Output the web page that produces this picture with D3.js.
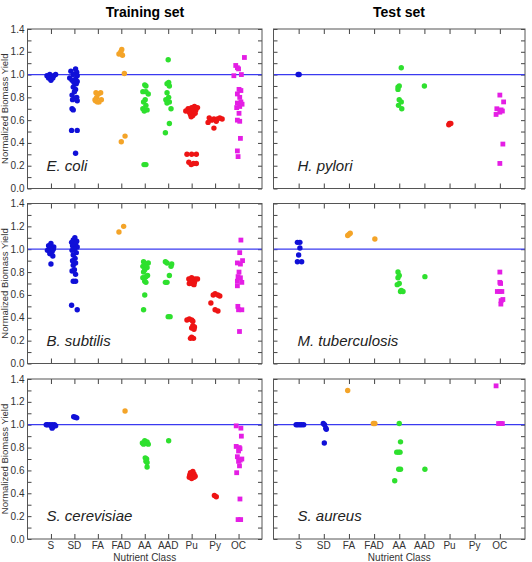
<!DOCTYPE html>
<html>
<head>
<meta charset="utf-8">
<script src="https://cdn.jsdelivr.net/npm/d3@7"></script>
<style>
  body { margin: 0; background: #fff; }
  text { font-family: "Liberation Sans", Arial, sans-serif; }
</style>
</head>
<body>
<svg id="chart" width="532" height="562"></svg>
<script>
let classes = ["S", "SD", "FA", "FAD", "AA", "AAD", "Pu", "Py", "OC"];
let classColor = ["#1010d8", "#1010d8", "#f4a428", "#f4a428", "#2ee02e", "#2ee02e", "#ee1414", "#ee1414", "#e41ee4"];
let yTicks = [0, 0.2, 0.4, 0.6, 0.8, 1.0, 1.2, 1.4];

// [class, value, jitter offset in class units]
let ecoli = [
  ["S",1.00,-0.05],["S",0.99,-0.17],["S",0.99,0.12],["S",1.00,0.2],["S",0.98,0.0],["S",0.97,-0.1],["S",0.97,0.08],["S",0.95,0.0],
  ["SD",1.05,0.05],["SD",1.03,-0.15],["SD",1.02,0.1],["SD",1.00,-0.05],["SD",0.99,0.12],["SD",0.97,-0.2],["SD",0.96,0.05],["SD",0.95,-0.1],
  ["SD",0.94,0.12],["SD",0.93,-0.02],["SD",0.92,0.08],["SD",0.89,-0.05],["SD",0.87,0.05],["SD",0.85,0.0],["SD",0.82,-0.1],["SD",0.80,0.1],
  ["SD",0.79,0.02],["SD",0.78,-0.08],["SD",0.77,0.12],["SD",0.70,-0.1],["SD",0.69,-0.05],["SD",0.51,-0.12],["SD",0.51,0.12],["SD",0.31,0.05],
  ["FA",0.84,-0.08],["FA",0.84,0.12],["FA",0.83,0.02],["FA",0.80,-0.05],["FA",0.78,0.15],["FA",0.77,-0.1],["FA",0.76,0.05],["FA",0.76,-0.02],["FA",0.78,-0.12],
  ["FAD",1.22,0.02],["FAD",1.20,-0.02],["FAD",1.18,-0.1],["FAD",1.17,0.05],["FAD",1.01,0.13],["FAD",0.46,0.16],["FAD",0.41,0.0],
  ["AA",0.91,0.0],["AA",0.90,0.05],["AA",0.85,-0.08],["AA",0.85,0.05],["AA",0.83,0.15],["AA",0.78,0.02],["AA",0.76,-0.05],["AA",0.73,0.05],
  ["AA",0.70,-0.08],["AA",0.69,0.1],["AA",0.68,-0.02],["AA",0.21,-0.03],["AA",0.21,0.05],
  ["AAD",1.13,0.0],["AAD",0.93,0.02],["AAD",0.92,-0.05],["AAD",0.90,0.05],["AAD",0.84,-0.05],["AAD",0.80,0.02],["AAD",0.78,-0.1],["AAD",0.76,0.05],
  ["AAD",0.75,-0.05],["AAD",0.70,0.12],["AAD",0.57,0.05],["AAD",0.49,-0.12],
  ["Pu",0.72,0.12],["Pu",0.71,0.0],["Pu",0.71,0.25],["Pu",0.70,-0.15],["Pu",0.69,0.18],["Pu",0.68,0.05],["Pu",0.68,-0.25],["Pu",0.67,-0.1],
  ["Pu",0.66,0.15],["Pu",0.65,-0.05],["Pu",0.64,0.05],["Pu",0.63,-0.02],["Pu",0.30,-0.2],["Pu",0.30,0.0],["Pu",0.30,0.2],["Pu",0.23,-0.12],
  ["Pu",0.22,0.08],["Pu",0.21,-0.02],["Pu",0.22,0.2],
  ["Py",0.62,-0.25],["Py",0.62,0.2],["Py",0.61,-0.05],["Py",0.61,0.3],["Py",0.61,0.1],["Py",0.60,-0.15],["Py",0.59,0.05],["Py",0.58,-0.3],["Py",0.53,-0.05],
  ["OC",1.15,0.25],["OC",1.08,-0.12],["OC",1.06,-0.05],["OC",1.05,0.0],["OC",1.00,0.12],["OC",0.99,-0.2],["OC",0.87,0.02],["OC",0.86,0.1],
  ["OC",0.83,-0.05],["OC",0.80,0.05],["OC",0.76,0.1],["OC",0.75,-0.05],["OC",0.74,0.15],["OC",0.72,0.05],["OC",0.71,-0.08],["OC",0.66,0.02],
  ["OC",0.60,-0.05],["OC",0.59,0.05],["OC",0.44,0.08],["OC",0.33,-0.05],["OC",0.28,-0.02]
];

let pylori = [
  ["S",1.00,-0.02],["S",1.00,0.02],
  ["AA",1.06,0.08],["AA",0.90,0.0],["AA",0.89,-0.05],["AA",0.87,-0.05],["AA",0.78,0.0],["AA",0.76,0.08],["AA",0.73,-0.03],["AA",0.70,0.1],
  ["AAD",0.90,0.0],
  ["Pu",0.57,0.0],["Pu",0.57,0.05],["Pu",0.56,-0.03],
  ["OC",0.82,0.0],["OC",0.76,0.15],["OC",0.70,-0.12],["OC",0.69,0.05],["OC",0.68,0.1],["OC",0.67,0.0],["OC",0.65,-0.15],["OC",0.39,0.12],["OC",0.22,0.0]
];

let subtilis = [
  ["S",1.05,0.0],["S",1.03,-0.1],["S",1.02,0.12],["S",1.01,-0.05],["S",1.00,0.1],["S",0.99,-0.15],["S",0.98,0.05],["S",0.96,-0.05],["S",0.94,0.08],["S",0.87,0.0],
  ["SD",1.10,0.02],["SD",1.08,-0.05],["SD",1.07,0.1],["SD",1.06,-0.12],["SD",1.05,0.05],["SD",1.03,-0.08],["SD",1.02,0.12],["SD",1.00,0.0],
  ["SD",0.99,-0.1],["SD",0.97,0.08],["SD",0.95,-0.05],["SD",0.92,0.03],["SD",0.90,-0.08],["SD",0.88,0.05],["SD",0.86,-0.05],["SD",0.82,0.0],
  ["SD",0.81,-0.1],["SD",0.78,0.05],["SD",0.72,-0.05],["SD",0.72,0.05],["SD",0.51,-0.12],["SD",0.47,0.12],
  ["FAD",1.15,-0.1],["FAD",1.20,0.1],
  ["AA",0.89,-0.05],["AA",0.88,0.15],["AA",0.87,0.0],["AA",0.85,-0.08],["AA",0.84,0.1],["AA",0.82,0.0],["AA",0.80,-0.05],["AA",0.77,0.12],
  ["AA",0.76,0.05],["AA",0.75,-0.08],["AA",0.72,0.0],["AA",0.71,0.05],["AA",0.60,0.0],["AA",0.47,-0.05],
  ["AAD",0.89,-0.12],["AAD",0.88,-0.05],["AAD",0.87,0.15],["AAD",0.85,0.12],["AAD",0.77,0.05],["AAD",0.71,-0.12],["AAD",0.71,-0.05],["AAD",0.41,0.0],["AAD",0.41,0.08],
  ["Pu",0.75,0.0],["Pu",0.74,0.15],["Pu",0.74,-0.12],["Pu",0.73,0.05],["Pu",0.72,-0.05],["Pu",0.71,0.12],["Pu",0.70,-0.1],["Pu",0.70,0.02],
  ["Pu",0.69,0.1],["Pu",0.74,0.25],["Pu",0.39,-0.1],["Pu",0.38,0.0],["Pu",0.38,-0.2],["Pu",0.37,0.05],["Pu",0.33,0.05],["Pu",0.32,0.12],
  ["Pu",0.31,0.0],["Pu",0.30,0.1],["Pu",0.23,0.0],["Pu",0.22,0.08],["Pu",0.22,-0.05],
  ["Py",0.61,0.0],["Py",0.60,0.12],["Py",0.60,-0.08],["Py",0.59,0.2],["Py",0.53,-0.18],["Py",0.47,0.0],["Py",0.46,0.12],
  ["OC",1.08,0.1],["OC",0.97,0.05],["OC",0.90,0.17],["OC",0.88,-0.05],["OC",0.87,0.08],["OC",0.80,0.02],["OC",0.76,-0.02],["OC",0.75,0.08],
  ["OC",0.72,-0.05],["OC",0.71,0.14],["OC",0.68,-0.05],["OC",0.50,-0.03],["OC",0.47,0.0],["OC",0.47,0.14],["OC",0.28,0.04]
];

let tuberculosis = [
  ["S",1.06,-0.05],["S",1.06,0.05],["S",1.01,0.05],["S",0.95,0.0],["S",0.89,-0.05],["S",0.89,0.12],
  ["FA",1.13,0.0],["FA",1.12,-0.05],["FA",1.14,0.05],
  ["FAD",1.09,0.03],
  ["AA",0.80,-0.05],["AA",0.77,0.0],["AA",0.75,-0.05],["AA",0.70,0.0],["AA",0.69,-0.08],["AA",0.63,0.05],["AA",0.63,0.15],["AA",0.64,0.08],
  ["AAD",0.76,0.02],
  ["OC",0.80,0.0],["OC",0.71,0.0],["OC",0.70,0.03],["OC",0.63,-0.1],["OC",0.63,0.0],["OC",0.63,0.08],["OC",0.56,0.12],["OC",0.55,0.05],["OC",0.52,0.04]
];

let cerevisiae = [
  ["S",1.00,-0.15],["S",1.00,-0.05],["S",1.00,0.05],["S",1.00,0.15],["S",0.99,0.0],["S",0.99,0.1],["S",0.98,0.08],["S",0.97,0.05],["S",1.00,-0.2],["S",0.99,0.2],
  ["SD",1.07,-0.03],["SD",1.065,0.04],["SD",1.06,0.1],
  ["FAD",1.12,0.16],
  ["AA",0.86,0.0],["AA",0.85,0.1],["AA",0.84,-0.1],["AA",0.84,0.05],["AA",0.83,0.15],["AA",0.83,-0.05],["AA",0.71,0.02],["AA",0.70,0.08],
  ["AA",0.68,0.05],["AA",0.67,0.1],["AA",0.63,0.1],
  ["AAD",0.86,0.02],
  ["Pu",0.59,0.05],["Pu",0.58,-0.05],["Pu",0.57,0.1],["Pu",0.56,-0.08],["Pu",0.55,0.05],["Pu",0.54,-0.1],["Pu",0.54,0.1],["Pu",0.53,0.0],["Pu",0.55,0.15],
  ["Py",0.38,-0.03],["Py",0.37,0.05],
  ["OC",0.99,-0.1],["OC",0.97,0.1],["OC",0.90,0.12],["OC",0.81,-0.1],["OC",0.80,0.03],["OC",0.79,0.06],["OC",0.77,0.0],["OC",0.72,-0.05],
  ["OC",0.70,0.14],["OC",0.69,0.07],["OC",0.68,0.0],["OC",0.64,0.04],["OC",0.58,-0.08],["OC",0.35,0.06],["OC",0.17,-0.02],["OC",0.17,0.09]
];

let aureus = [
  ["S",1.00,-0.1],["S",1.00,-0.03],["S",1.00,0.05],["S",1.00,0.12],["S",1.00,0.2],
  ["SD",1.01,-0.02],["SD",1.00,0.03],["SD",0.97,0.08],["SD",0.96,0.1],["SD",0.84,0.02],
  ["FA",1.30,-0.05],
  ["FAD",1.01,-0.03],["FAD",1.01,0.03],
  ["AA",1.01,0.0],["AA",0.85,0.05],["AA",0.76,-0.1],["AA",0.76,-0.03],["AA",0.76,0.03],["AA",0.61,-0.02],["AA",0.61,0.05],["AA",0.51,-0.18],
  ["AAD",0.61,0.02],
  ["OC",1.34,-0.15],["OC",1.01,-0.05],["OC",1.01,0.03],["OC",1.01,0.1]
];

let panels = [
  {name: "E. coli", data: ecoli, col: 0, row: 0},
  {name: "H. pylori", data: pylori, col: 1, row: 0},
  {name: "B. subtilis", data: subtilis, col: 0, row: 1},
  {name: "M. tuberculosis", data: tuberculosis, col: 1, row: 1},
  {name: "S. cerevisiae", data: cerevisiae, col: 0, row: 2},
  {name: "S. aureus", data: aureus, col: 1, row: 2}
];

let colX = [[27.5, 262], [273.5, 525]];
let rowY = [[29, 188.5], [203.5, 363.5], [379, 539]];

let svg = d3.select("#chart");

svg.append("text").attr("x", 145).attr("y", 17).attr("text-anchor", "middle")
  .style("font-size", "14px").style("font-weight", "bold").text("Training set");
svg.append("text").attr("x", 399).attr("y", 17).attr("text-anchor", "middle")
  .style("font-size", "14px").style("font-weight", "bold").text("Test set");

panels.forEach((p) => {
  let [x0, x1] = colX[p.col];
  let [y0, y1] = rowY[p.row];
  let x = d3.scaleLinear().domain([0, 10]).range([x0, x1]);
  let y = d3.scaleLinear().domain([0, 1.4]).range([y1, y0]);
  let g = svg.append("g");

  // minor + major y ticks, both sides, pointing inward
  let yt = d3.range(0, 15).map((i) => i / 10);
  g.append("g").attr("transform", "translate(" + x0 + ",0)")
    .call(d3.axisRight(y).tickValues(yt).tickSize(4).tickFormat(""));
  g.append("g").attr("transform", "translate(" + x1 + ",0)")
    .call(d3.axisLeft(y).tickValues(yt).tickSize(4).tickFormat(""));
  let xt = d3.range(1, 10);
  g.append("g").attr("transform", "translate(0," + y0 + ")")
    .call(d3.axisBottom(x).tickValues(xt).tickSize(5).tickFormat(""));
  g.append("g").attr("transform", "translate(0," + y1 + ")")
    .call(d3.axisTop(x).tickValues(xt).tickSize(5).tickFormat(""));
  g.selectAll(".domain").remove();
  g.selectAll(".tick line").attr("stroke", "#444");

  if (p.col == 0) {
    g.selectAll(".yl").data(yTicks).enter().append("text")
      .attr("x", x0 - 3).attr("y", (d) => y(d) + 3.5)
      .attr("text-anchor", "end").style("font-size", "10px").attr("fill", "#333")
      .text((d) => d.toFixed(1));
    g.append("text")
      .attr("transform", "translate(8," + ((y0 + y1) / 2) + ") rotate(-90)")
      .attr("text-anchor", "middle").style("font-size", "9.5px").attr("fill", "#333")
      .text("Normalized Biomass Yield");
  }
  if (p.row == 2) {
    g.selectAll(".xl").data(classes).enter().append("text")
      .attr("x", (d, i) => x(i + 1)).attr("y", y1 + 10)
      .attr("text-anchor", "middle").style("font-size", "10px").attr("fill", "#333")
      .text((d) => d);
    g.append("text").attr("x", (x0 + x1) / 2).attr("y", y1 + 21.5)
      .attr("text-anchor", "middle").style("font-size", "10px").attr("fill", "#333")
      .text("Nutrient Class");
  }

  // reference line at 1.0
  g.append("line").attr("x1", x0).attr("x2", x1)
    .attr("y1", y(1)).attr("y2", y(1))
    .attr("stroke", "#3a3af0").attr("stroke-width", 1.2);

  let pts = g.selectAll(".pt").data(p.data).enter();
  pts.filter((d) => d[0] != "OC").append("circle")
    .attr("cx", (d) => x(classes.indexOf(d[0]) + 1 + d[2]))
    .attr("cy", (d) => y(d[1]))
    .attr("r", 2.7)
    .attr("fill", (d) => classColor[classes.indexOf(d[0])]);
  pts.filter((d) => d[0] == "OC").append("rect")
    .attr("x", (d) => x(classes.indexOf(d[0]) + 1 + d[2]) - 2.4)
    .attr("y", (d) => y(d[1]) - 2.4)
    .attr("width", 4.8).attr("height", 4.8)
    .attr("fill", (d) => classColor[classes.indexOf(d[0])]);

  g.append("rect").attr("x", x0).attr("y", y0)
    .attr("width", x1 - x0).attr("height", y1 - y0)
    .attr("fill", "none").attr("stroke", "#555").attr("stroke-width", 1);

  g.append("text").attr("x", x0 + (p.col == 0 ? 19 : 24)).attr("y", y1 - 18)
    .style("font-size", "15px").style("font-style", "italic").attr("fill", "#222")
    .text(p.name);
});
</script>
</body>
</html>
